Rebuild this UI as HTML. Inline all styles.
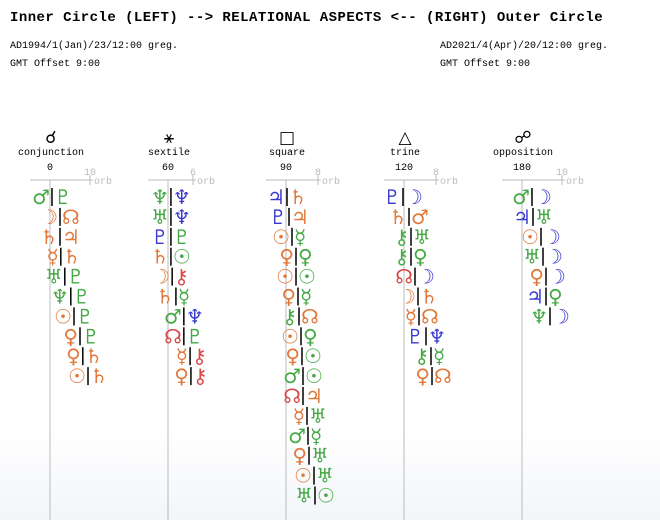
<!DOCTYPE html>
<html><head><meta charset="utf-8">
<style>
body{margin:0;width:660px;height:520px;overflow:hidden;background:linear-gradient(#fff 0,#fff 430px,#f3f5f9 520px);font-family:"Liberation Mono","DejaVu Sans Mono",monospace;}
#title{position:absolute;left:10px;top:10px;font-size:14px;letter-spacing:0.45px;white-space:nowrap;color:#000;font-weight:bold;}
.sub{position:absolute;font-size:10px;white-space:nowrap;color:#000;}
svg{position:absolute;left:0;top:0}
</style></head><body>
<div id="title">Inner Circle (LEFT) --&gt; RELATIONAL ASPECTS &lt;-- (RIGHT) Outer Circle</div>
<div class="sub" style="left:10px;top:41px">AD1994/1(Jan)/23/12:00 greg.</div>
<div class="sub" style="left:10px;top:59px">GMT Offset 9:00</div>
<div class="sub" style="left:440px;top:41px">AD2021/4(Apr)/20/12:00 greg.</div>
<div class="sub" style="left:440px;top:59px">GMT Offset 9:00</div>
<svg id="chart" width="660" height="520"></svg>
<script>
const aspects=["conjunction","sextile","square","trine","opposition"];
const aspectSymbols=["☌","⚹","□","△","☍"];
const aspectAngles=["0","60","90","120","180"];
const maxOrbs=[10,6,8,8,10];
const conjRows=[["♂g","♇g"],["☽o","☊o"],["♄o","♃o"],["☿o","♄o"],["♅g","♇g"],["♆g","♇g"],["☉o","♇g"],["♀o","♇g"],["♀o","♄o"],["☉o","♄o"]];
const conjOrbs=[0.5,2.5,2.5,2.7,3.7,5.2,6,7.5,8.2,9.5];
const sextRows=[["♆g","♆b"],["♅g","♆b"],["♇b","♇g"],["♄o","☉g"],["☽o","⚷r"],["♄o","☿g"],["♂g","♆b"],["☊r","♇g"],["☿o","⚷r"],["♀o","⚷r"]];
const sextOrbs=[0.7,0.7,0.7,0.7,1,1.9,3.8,3.8,5.3,5.5];
const sqRows=[["♃b","♄o"],["♇b","♃o"],["☉o","☿g"],["♀o","♀g"],["☉o","☉g"],["♀o","☿g"],["⚷g","☊o"],["☉o","♀g"],["♀o","☉g"],["♂g","☉g"],["☊r","♃o"],["☿o","♅g"],["♂g","☿g"],["♀o","♅g"],["☉o","♅g"],["♅g","☉g"]];
const sqOrbs=[0.25,0.75,1.5,2.5,2.5,3,3.25,3.75,4,4.25,4.25,5.25,5.5,5.75,7,7.25];
const triRows=[["♇b","☽b"],["♄o","♂o"],["⚷g","♅g"],["⚷g","♀g"],["☊r","☽b"],["☽o","♄o"],["☿o","☊o"],["♇b","♆b"],["⚷g","☿g"],["♀o","☊o"]];
const triOrbs=[-0.25,1.25,1.75,1.75,2.75,3.5,3.75,5.5,6.75,7];
const oppRows=[["♂g","☽b"],["♃b","♅g"],["☉o","☽b"],["♅g","☽b"],["♀o","☽b"],["♃b","♀g"],["♆g","☽b"]];
const oppOrbs=[2.5,2.75,4.75,5.25,6,6,7];

const allRows=[conjRows,sextRows,sqRows,triRows,oppRows];
const allOrbs=[conjOrbs,sextOrbs,sqOrbs,triOrbs,oppOrbs];
const axisX=[50,168,286,404,522];
const COL={g:"#44a844",o:"#e0783a",b:"#3a3ad0",r:"#d84848"};
const svg=document.getElementById('chart');
const NS="http://www.w3.org/2000/svg";
function mk(tag,attrs,txt){const e=document.createElementNS(NS,tag);for(const k in attrs)e.setAttribute(k,attrs[k]);if(txt!==undefined)e.textContent=txt;svg.appendChild(e);return e;}
function xScale(i,orb){return axisX[i]+orb*(i===1?25/6:4);}
function yScale(r){return 197+r*19.9;}
aspects.forEach((name,i)=>{
  const ax=axisX[i];
  let e=mk('line',{x1:ax,y1:180,x2:ax,y2:520,stroke:'#bbb','stroke-width':1});
  
  
  e=mk('line',{x1:ax-20,y1:180,x2:xScale(i,maxOrbs[i])+3,y2:180,stroke:'#bbb','stroke-width':1});
  
  
  const tx=xScale(i,maxOrbs[i]);
  e=mk('line',{x1:tx,y1:175,x2:tx,y2:185,stroke:'#bbb','stroke-width':1});
  
  
  e=mk('text',{x:tx,y:175,'font-size':10,fill:'#bbb','text-anchor':'middle','font-family':'Liberation Mono,monospace'},String(maxOrbs[i]));
  
  
  e=mk('text',{x:tx+4,y:184,'font-size':10,fill:'#bbb','font-family':'Liberation Mono,monospace'},'orb');
  
  
  e=mk('text',{x:ax,y:170,'font-size':10,fill:'#000','text-anchor':'middle','font-family':'Liberation Mono,monospace'},aspectAngles[i]);
  
  
  e=mk('text',{x:ax+1,y:155,'font-size':10,fill:'#000','text-anchor':'middle','font-family':'Liberation Mono,monospace'},name);
  
  
  e=mk('text',{x:ax+1,y:143,'font-size':17,fill:'#000','text-anchor':'middle','font-family':'DejaVu Sans,sans-serif'},aspectSymbols[i]);
  
  
  allRows[i].forEach((row,r)=>{
    const bx=xScale(i,allOrbs[i][r]);const y=yScale(r);
    let b=mk('line',{x1:bx,y1:y-9,x2:bx,y2:y+9,stroke:'#000','stroke-width':1.5});
    
    
    let l=mk('text',{x:bx-2,y:y+7,'font-size':20,fill:COL[row[0][1]],'text-anchor':'end','font-family':'DejaVu Sans,sans-serif'},row[0][0]);
    
    
    let rr=mk('text',{x:bx+2,y:y+7,'font-size':20,fill:COL[row[1][1]],'text-anchor':'start','font-family':'DejaVu Sans,sans-serif'},row[1][0]);
    
    
  });
});
</script>
</body></html>
